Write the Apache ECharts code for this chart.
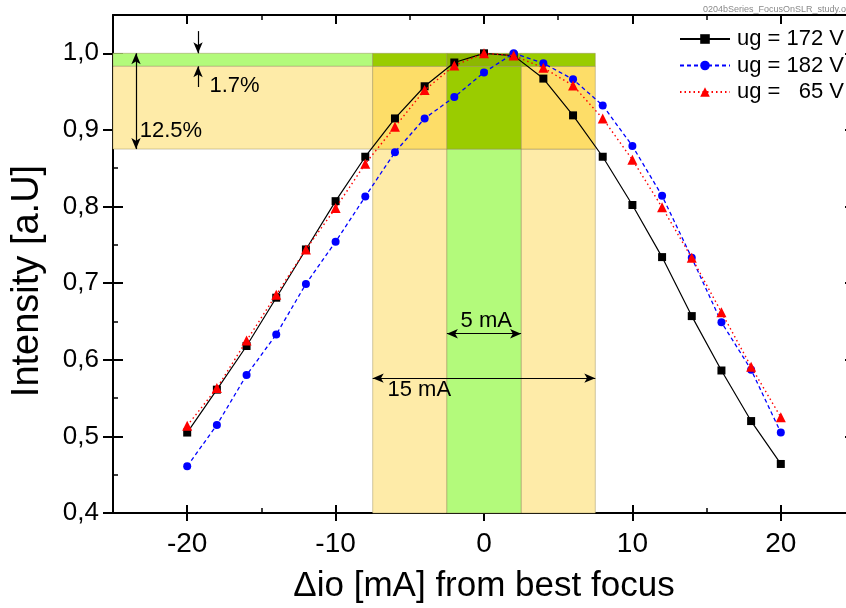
<!DOCTYPE html>
<html>
<head>
<meta charset="utf-8">
<title>Intensity vs focus offset</title>
<script src="https://cdn.jsdelivr.net/npm/echarts@6/dist/echarts.min.js"></script>
<style>
  html, body { margin: 0; padding: 0; background: #ffffff; }
  #chart { width: 846px; height: 608px; }
</style>
</head>
<body>
<div id="chart"></div>
<script>
// Focus offset from best focus [mA]
const focusOffset = [-20, -18, -16, -14, -12, -10, -8, -6, -4, -2, 0, 2, 4, 6, 8, 10, 12, 14, 16, 18, 20];

// Normalised intensity for each grid voltage
const intensity172 = [0.505, 0.561, 0.618, 0.681, 0.744, 0.807, 0.865, 0.915, 0.957, 0.988, 1.000, 0.997, 0.967, 0.919, 0.865, 0.802, 0.734, 0.657, 0.586, 0.520, 0.464];
const intensity182 = [0.461, 0.515, 0.580, 0.633, 0.699, 0.754, 0.813, 0.871, 0.915, 0.943, 0.975, 1.000, 0.987, 0.966, 0.932, 0.879, 0.814, 0.733, 0.649, 0.587, 0.505];
const intensity65  = [0.514, 0.563, 0.625, 0.685, 0.744, 0.798, 0.856, 0.904, 0.952, 0.984, 1.000, 0.997, 0.981, 0.958, 0.915, 0.861, 0.799, 0.733, 0.662, 0.591, 0.525];

const seriesNames = ['ug = 172 V', 'ug = 182 V', 'ug =   65 V'];

// Tick positions
const xTickValues = [-20, -10, 0, 10, 20];
const xMinorTickValues = [-15, -5, 5, 15];
const yTickValues = [0.4, 0.5, 0.6, 0.7, 0.8, 0.9, 1.0];
const yMinorTickValues = [0.45, 0.55, 0.65, 0.75, 0.85, 0.95];

// Tolerance windows
const innerWindow = 5;       // mA
const outerWindow = 15;      // mA
const tightTolerance = 0.017;
const looseTolerance = 0.125;

const FONT = '"Liberation Sans", Arial, Helvetica, sans-serif';
const X_MIN = -25, X_MAX = 25, Y_MIN = 0.4, Y_MAX = 1.05;

const pairs = (ys) => focusOffset.map((x, i) => [x, ys[i]]);
const yFmt = (v) => v.toFixed(1).replace('.', ',');

// ---- axes: frame with crossing major ticks and inside minor ticks ----
const hidden = { axisLine: { show: false }, axisLabel: { show: false }, splitLine: { show: false } };
function tickAxis(kind, position, values, length, inside, width, showLine) {
  return Object.assign({}, hidden, {
    type: 'value', position,
    min: kind === 'x' ? X_MIN : Y_MIN,
    max: kind === 'x' ? X_MAX : Y_MAX,
    axisTick: { show: true, customValues: values, length, inside, lineStyle: { color: '#000', width } },
    axisLine: { show: !!showLine, onZero: false, lineStyle: { color: '#000', width: 2 } },
    silent: true
  });
}

const xAxes = [
  {
    type: 'value', position: 'bottom', min: X_MIN, max: X_MAX,
    name: 'Δio [mA] from best focus', nameLocation: 'middle', nameGap: 56,
    nameTextStyle: { fontSize: 35, color: '#000', fontFamily: FONT },
    axisLine: { show: true, onZero: false, lineStyle: { color: '#000', width: 2 } },
    axisTick: { show: true, customValues: xTickValues, length: 8, inside: false, lineStyle: { color: '#000', width: 2 } },
    axisLabel: { show: true, customValues: xTickValues, margin: 17, fontSize: 28, color: '#000', fontFamily: FONT, formatter: (v) => String(v) },
    splitLine: { show: false }
  },
  tickAxis('x', 'bottom', xTickValues, 8, true, 2),
  tickAxis('x', 'bottom', xMinorTickValues, 5, true, 1.5),
  tickAxis('x', 'top', xTickValues, 9, true, 2, true),
  tickAxis('x', 'top', xMinorTickValues, 5, true, 1.5)
];

const yAxes = [
  {
    type: 'value', position: 'left', min: Y_MIN, max: Y_MAX,
    name: 'Intensity [a.U]', nameLocation: 'middle', nameGap: 66,
    nameTextStyle: { fontSize: 38, color: '#000', fontFamily: FONT, padding: [0, 34, 0, 0] },
    axisLine: { show: true, onZero: false, lineStyle: { color: '#000', width: 2 } },
    axisTick: { show: true, customValues: yTickValues, length: 10, inside: false, lineStyle: { color: '#000', width: 2 } },
    axisLabel: { show: true, customValues: yTickValues, margin: 14, fontSize: 26, color: '#000', fontFamily: FONT, formatter: yFmt },
    splitLine: { show: false }
  },
  tickAxis('y', 'left', yTickValues, 10, true, 2),
  tickAxis('y', 'left', yMinorTickValues, 5, true, 1.5),
  tickAxis('y', 'right', yTickValues, 10, true, 2, true),
  tickAxis('y', 'right', yMinorTickValues, 5, true, 1.5)
];

// ---- shaded tolerance windows ----
const hwIn = innerWindow / 2, hwOut = outerWindow / 2;
const yTight = 1 - tightTolerance, yLoose = 1 - looseTolerance;
const C = {
  lightGreen: '#b3fa7b', lightYellow: '#feeba8', deepYellow: '#fddd68',
  olive: '#9acc00', darkOlive: '#8db800', edge: 'rgba(150,140,90,0.45)'
};
function rect(x1, y1, x2, y2, color) {
  return [
    { xAxis: x1, yAxis: y1, itemStyle: { color, borderColor: C.edge, borderWidth: 1 } },
    { xAxis: x2, yAxis: y2 }
  ];
}
const windowAreas = [
  rect(X_MIN, yTight, -hwOut, 1, C.lightGreen),
  rect(X_MIN, yLoose, -hwOut, yTight, C.lightYellow),
  rect(-hwOut, Y_MIN, -hwIn, yLoose, C.lightYellow),
  rect(hwIn, Y_MIN, hwOut, yLoose, C.lightYellow),
  rect(-hwIn, Y_MIN, hwIn, yLoose, C.lightGreen),
  rect(-hwOut, yLoose, -hwIn, yTight, C.deepYellow),
  rect(hwIn, yLoose, hwOut, yTight, C.deepYellow),
  rect(-hwIn, yLoose, hwIn, yTight, C.olive),
  rect(-hwOut, yTight, -hwIn, 1, C.olive),
  rect(hwIn, yTight, hwOut, 1, C.olive),
  rect(-hwIn, yTight, hwIn, 1, C.darkOlive)
];

// ---- dimension arrows and their labels ----
function arrow(p1, p2, startHead, endHead) {
  return [
    { coord: p1, symbol: startHead ? 'arrow' : 'none' },
    { coord: p2, symbol: endHead ? 'arrow' : 'none' }
  ];
}
const arrows = [
  arrow([-19.27, 1.029], [-19.27, 1.0], false, true),
  arrow([-19.27, 0.956], [-19.27, yTight], false, true),
  arrow([-23.45, 1.0], [-23.45, yLoose], true, true),
  arrow([-hwIn, 0.634], [hwIn, 0.634], true, true),
  arrow([-hwOut, 0.576], [hwOut, 0.576], true, true)
];
function note(text, coord, align) {
  return {
    coord, symbol: 'circle', symbolSize: 0,
    label: { show: true, formatter: text, position: 'inside', align, verticalAlign: 'middle', fontSize: 22, color: '#000', fontFamily: FONT }
  };
}
const notes = [
  note('1.7%', [-18.5, 0.958], 'left'),
  note('12.5%', [-23.2, 0.899], 'left'),
  note('5 mA', [0.15, 0.651], 'center'),
  note('15 mA', [-6.5, 0.561], 'left')
];

const chart = echarts.init(document.getElementById('chart'), null, { renderer: 'canvas' });
chart.setOption({
  animation: false,
  backgroundColor: '#ffffff',
  grid: { left: 113, top: 15, width: 742, height: 498, containLabel: false, outerBoundsMode: 'none' },
  xAxis: xAxes,
  yAxis: yAxes,
  legend: {
    data: seriesNames,
    orient: 'vertical', left: 679, top: 28, padding: 0,
    itemWidth: 50, itemHeight: 12, itemGap: 4.5,
    textStyle: { fontSize: 22, color: '#000', fontFamily: FONT, padding: [0, 0, 0, 2] },
    selectedMode: false
  },
  graphic: [
    { type: 'text', left: 703, top: 5, silent: true,
      style: { text: '0204bSeries_FocusOnSLR_study.opj', fontSize: 9, fill: '#8a8a8a', fontFamily: FONT } }
  ],
  series: [
    {
      type: 'line', data: [], z: 1, silent: true, xAxisIndex: 0, yAxisIndex: 0,
      markArea: { silent: true, data: windowAreas, label: { show: false } },
      markLine: {
        silent: true, symbolSize: [7, 11],
        lineStyle: { color: '#000', width: 1.2, type: 'solid' },
        label: { show: false }, emphasis: { disabled: true },
        data: arrows
      },
      markPoint: { silent: true, data: notes }
    },
    {
      name: seriesNames[0], type: 'line', data: pairs(intensity172), z: 3,
      symbol: 'rect', symbolSize: 8,
      itemStyle: { color: '#000000' },
      lineStyle: { color: '#000000', width: 1.2 },
      emphasis: { disabled: true }
    },
    {
      name: seriesNames[1], type: 'line', data: pairs(intensity182), z: 4,
      symbol: 'circle', symbolSize: 8,
      itemStyle: { color: '#0000ff' },
      lineStyle: { color: '#0000ff', width: 1.3, type: [4, 3] },
      emphasis: { disabled: true }
    },
    {
      name: seriesNames[2], type: 'line', data: pairs(intensity65), z: 5,
      symbol: 'triangle', symbolSize: 10,
      itemStyle: { color: '#ff0000' },
      lineStyle: { color: '#ff0000', width: 1.4, type: [1.5, 3] },
      emphasis: { disabled: true }
    }
  ]
});
</script>
</body>
</html>
